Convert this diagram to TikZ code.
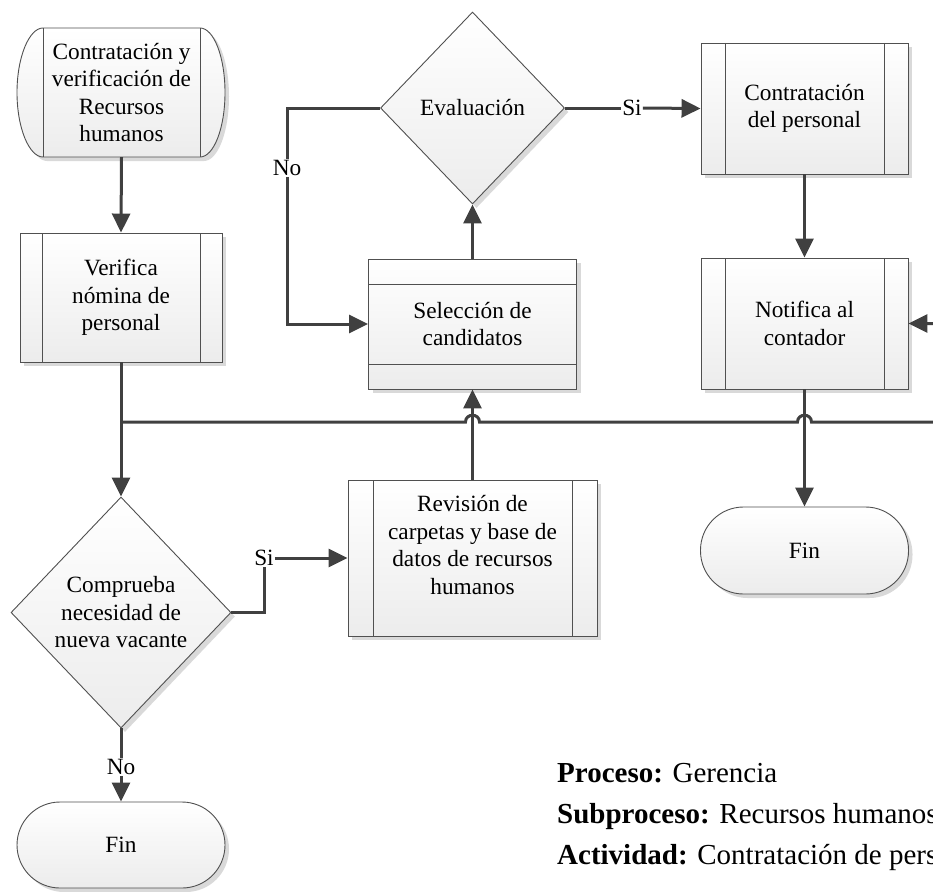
\documentclass[tikz,border=0pt]{standalone}
\usepackage{fontspec}
\setmainfont{Liberation Serif}
\usetikzlibrary{shapes.geometric,shadows,arrows.meta}
\definecolor{linec}{HTML}{404040}
\definecolor{bordc}{HTML}{505050}
\definecolor{shadc}{HTML}{D9D9D9}
\definecolor{fillb}{HTML}{ECECEC}
\begin{document}
\begin{tikzpicture}[x=1pt,y=-1pt,
  font=\fontsize{23.3}{27.5}\selectfont,
  base/.style={draw=bordc, line width=0.9pt, top color=white, bottom color=fillb,
    drop shadow={shadow xshift=4pt, shadow yshift=-4pt, fill=shadc, opacity=1},
    align=center, inner sep=0pt},
  procbox/.style={base, rectangle, path picture={
    \draw[bordc,line width=0.9pt]
      ([xshift=#1]path picture bounding box.north west) -- ([xshift=#1]path picture bounding box.south west)
      ([xshift=-#1]path picture bounding box.north east) -- ([xshift=-#1]path picture bounding box.south east);}},
  hbox/.style={base, rectangle, path picture={
    \draw[bordc,line width=0.9pt]
      ([yshift=-#1]path picture bounding box.north west) -- ([yshift=-#1]path picture bounding box.north east)
      ([yshift=#1]path picture bounding box.south west) -- ([yshift=#1]path picture bounding box.south east);}},
  decision/.style={base, diamond},
  termbox/.style={base, rectangle, rounded corners=43pt},
  conn/.style={draw=linec, line width=3pt},
  arr/.style={conn, -{Triangle[length=19pt,width=18pt]}},
  lbl/.style={fill=white, inner sep=1pt},
  info/.style={anchor=base west, font=\fontsize{29}{34}\selectfont, inner sep=0pt}
]
\useasboundingbox (0,0) rectangle (933,891);
\clip (0,0) rectangle (933,891);

% start shape (curved sides)
\path[draw=bordc, line width=0.9pt, top color=white, bottom color=fillb,
    drop shadow={shadow xshift=4pt, shadow yshift=-4pt, fill=shadc, opacity=1}]
  (43,28) -- (200,28) .. controls (213.8,28) and (225,56.9) .. (225,92.5)
  .. controls (225,128.1) and (213.8,157) .. (200,157) -- (43,157)
  .. controls (29.2,157) and (17,128.1) .. (17,92.5)
  .. controls (17,56.9) and (29.2,28) .. (43,28) -- cycle;
\draw[bordc, line width=0.9pt] (43,28) -- (43,157) (200,28) -- (200,157);
\node[align=center, inner sep=0pt, minimum width=157pt, minimum height=129pt] (start) at (121.5,92.5)
  {Contratación y\\verificación de\\Recursos\\humanos};

\node[procbox=22pt, minimum width=202pt, minimum height=129pt] (verif) at (121,297.5)
  {Verifica\\nómina de\\personal};
\node[decision, minimum width=220pt, minimum height=231pt] (comp) at (121,612.5)
  {Comprueba\\necesidad de\\nueva vacante};
\node[termbox, minimum width=208pt, minimum height=86pt] (fin1) at (121,845) {Fin};

\node[procbox=25pt, minimum width=249pt, minimum height=156pt] (rev) at (472.5,558) {};
\node[align=center, inner sep=0pt] (revtxt) at (472.5,545)
  {Revisión de\\carpetas y base de\\datos de recursos\\humanos};
\node[hbox=25pt, minimum width=208pt, minimum height=130pt] (sel) at (472.5,324)
  {Selección de\\candidatos};
\node[decision, minimum width=184pt, minimum height=192pt] (eval) at (472.5,108) {Evaluación};

\node[procbox=24pt, minimum width=207pt, minimum height=131pt] (contr) at (804.5,108.5)
  {Contratación\\del personal};
\node[procbox=24pt, minimum width=207pt, minimum height=131pt] (notif) at (804.5,323.5)
  {Notifica al\\contador};
\node[termbox, minimum width=208pt, minimum height=87pt] (fin2) at (804.5,550.5) {Fin};

% connectors
\coordinate (j1) at (121,422);
\coordinate (j2) at (950,422);
\draw[arr] (start.south) -- (verif.north);
\draw[conn] (verif.south) -- (j1);
\draw[arr] (j1) -- (465.5,422) .. controls (465.5,413) and (479.5,413) .. (479.5,422)
  -- (797.5,422) .. controls (797.5,413) and (811.5,413) .. (811.5,422)
  -- (j2) |- (notif.east);
\draw[arr] (j1) -- (comp.north);

\node[lbl] (si1) at (264,558) {Si};
\draw[conn] (comp.east) -| (si1.south);
\draw[arr] (si1.east) -- (rev.west);

\node[lbl] (no2) at (121,767) {No};
\draw[conn] (comp.south) -- (no2.north);
\draw[arr] (no2.south) -- (fin1.north);

\draw[arr] (rev.north) -- (sel.south);
\draw[arr] (sel.north) -- (eval.south);

\node[lbl] (no1) at (287,168) {No};
\draw[conn] (eval.west) -| (no1.north);
\draw[arr] (no1.south) |- (sel.west);

\node[lbl] (si2) at (632,108) {Si};
\draw[conn] (eval.east) -- (si2.west);
\draw[arr] (si2.east) -- (contr.west);

\draw[arr] (contr.south) -- (notif.north);
\draw[arr] (notif.south) -- (fin2.north);

% info text
\node[info] (l1) at (557,782) {\textbf{Proceso:} Gerencia};
\node[info] (l2) at (557,823) {\textbf{Subproceso:} Recursos humanos};
\node[info] (l3) at (557,864) {\textbf{Actividad:} Contratación de personal};
\end{tikzpicture}
\end{document}
